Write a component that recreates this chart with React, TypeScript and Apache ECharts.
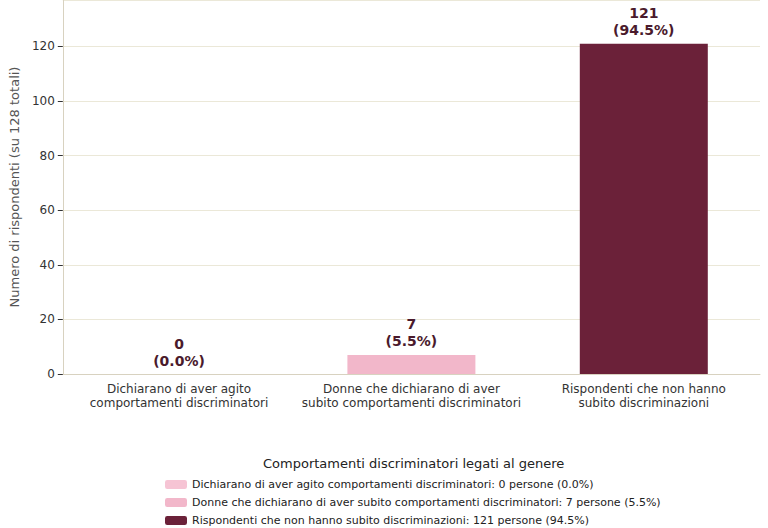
import React, { useEffect, useRef } from "react";
import * as echarts from "echarts";

const categories = [
  "Dichiarano di aver agito\ncomportamenti discriminatori",
  "Donne che dichiarano di aver\nsubito comportamenti discriminatori",
  "Rispondenti che non hanno\nsubito discriminazioni",
];
const legendNames = [
  "Dichiarano di aver agito comportamenti discriminatori: 0 persone (0.0%)",
  "Donne che dichiarano di aver subito comportamenti discriminatori: 7 persone (5.5%)",
  "Rispondenti che non hanno subito discriminazioni: 121 persone (94.5%)",
];
const values = [0, 7, 121];
const percents = ["0.0%", "5.5%", "94.5%"];
const colors = ["#f6c4d4", "#f2b7ca", "#6b2139"];

export default function App() {
  const ref = useRef<HTMLDivElement>(null);
  useEffect(() => {
    const chart = echarts.init(ref.current!, null, { renderer: "svg" });
    const font = "DejaVu Sans";
    chart.setOption({
      animation: false,
      textStyle: { fontFamily: font },
      grid: { left: 55, right: 8, top: 0, bottom: 154 },
      xAxis: {
        type: "category",
        data: categories,
        axisLine: { lineStyle: { color: "#d8d2c0" } },
        axisTick: { lineStyle: { color: "#333" }, alignWithLabel: true },
        axisLabel: { color: "#333", fontSize: 12, lineHeight: 14, fontFamily: font, interval: 0 },
      },
      yAxis: {
        type: "value",
        min: 0,
        max: 137,
        interval: 20,
        name: "Numero di rispondenti (su 128 totali)",
        nameLocation: "middle",
        nameGap: 34,
        nameTextStyle: { color: "#555", fontSize: 13, fontFamily: font },
        axisLine: { show: true, lineStyle: { color: "#d8d2c0" } },
        axisTick: { show: true, lineStyle: { color: "#333" } },
        axisLabel: { color: "#333", fontSize: 12, fontFamily: font, showMaxLabel: false },
        splitLine: { lineStyle: { color: "#ebe8d8" } },
      },
      legend: {
        orient: "vertical",
        left: 160,
        top: 474,
        height: 60,
        itemWidth: 22,
        itemHeight: 9,
        itemGap: 7,
        textStyle: { fontSize: 11, color: "#222", fontFamily: font },
        data: legendNames,
      },
      graphic: [
        {
          type: "text",
          left: 263,
          top: 457,
          style: { text: "Comportamenti discriminatori legati al genere", fontSize: 13, fill: "#222", fontFamily: font },
        },
      ],
      series: legendNames.map((n, i) => ({
        type: "bar",
        name: n,
        stack: "a",
        barWidth: 128,
        itemStyle: { color: colors[i] },
        data: values.map((v, j) => (j === i ? v : "-")),
        label: {
          show: true,
          position: "top",
          distance: 5,
          formatter: () => `${values[i]}\n(${percents[i]})`,
          color: "#4a1a2c",
          fontWeight: "bold",
          fontSize: 14,
          lineHeight: 17,
          fontFamily: font,
        },
      })),
    });
    return () => chart.dispose();
  }, []);
  return <div ref={ref} style={{ position: "absolute", left: 0, top: 0, width: 768, height: 528 }} />;
}
